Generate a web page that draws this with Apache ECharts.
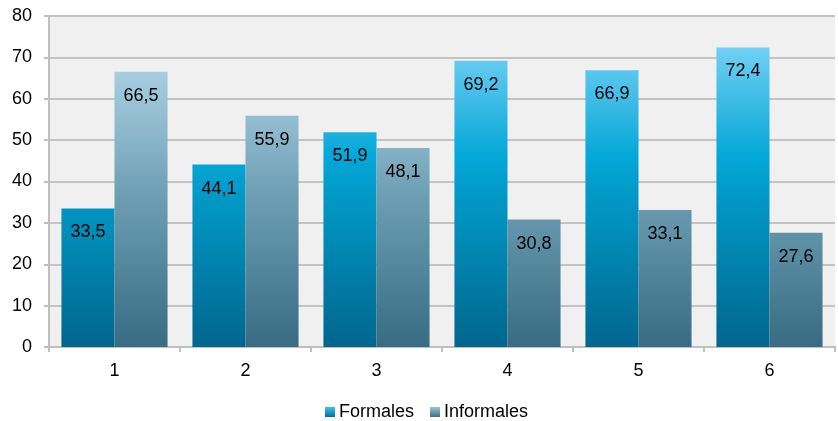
<!DOCTYPE html>
<html>
<head>
<meta charset="utf-8">
<script src="https://cdn.jsdelivr.net/npm/echarts@6/dist/echarts.min.js"></script>
<style>
  html, body { margin: 0; padding: 0; background: #ffffff; }
  #chart { width: 838px; height: 421px; }
</style>
</head>
<body>
<div id="chart"></div>
<script>
// Categories and values
const categories = ['1', '2', '3', '4', '5', '6'];
const formales = [33.5, 44.1, 51.9, 69.2, 66.9, 72.4];
const informales = [66.5, 55.9, 48.1, 30.8, 33.1, 27.6];
const yTicks = { min: 0, max: 80, interval: 10 };

const gridTop = 16, gridBottom = 74, chartH = 421;
const plotTop = gridTop, plotBottom = chartH - gridBottom;

// Vertical gradients spanning the whole plot height (shared by all bars of a series)
function plotGradient(stops) {
  return new echarts.graphic.LinearGradient(0, plotTop, 0, plotBottom,
    stops.map(s => ({ offset: s[0], color: s[1] })), true);
}
const formalesFill = plotGradient([
  [0.00, '#86dbfa'], [0.10, '#6fcff4'], [0.30, '#2fb6e2'],
  [0.42, '#04a8d8'], [0.55, '#0298c6'], [1.00, '#00668e']
]);
const informalesFill = plotGradient([
  [0.00, '#b6d9ea'], [0.17, '#a6cde0'], [0.35, '#8db8cc'],
  [0.55, '#6c9db3'], [1.00, '#386c82']
]);
const fmt = p => String(p.value).replace('.', ',');

const chart = echarts.init(document.getElementById('chart'));
chart.setOption({
  backgroundColor: '#ffffff',
  animation: false,
  textStyle: { fontFamily: 'Liberation Sans, Arial, sans-serif' },
  grid: { left: 49, right: 3, top: gridTop, bottom: gridBottom,
          show: true, backgroundColor: '#f0f0f0', borderWidth: 0 },
  legend: {
    bottom: -5, left: 320, itemWidth: 10, itemHeight: 10, itemGap: 16,
    icon: 'rect',
    textStyle: { fontSize: 18, color: '#000', padding: [0, 0, 0, -1] },
    data: [
      { name: 'Formales', itemStyle: { color: new echarts.graphic.LinearGradient(0, 0, 0, 1,
          [{ offset: 0, color: '#40c0ec' }, { offset: 1, color: '#00709a' }]) } },
      { name: 'Informales', itemStyle: { color: new echarts.graphic.LinearGradient(0, 0, 0, 1,
          [{ offset: 0, color: '#9cc4d8' }, { offset: 1, color: '#3c7088' }]) } }
    ]
  },
  xAxis: {
    type: 'category', data: categories, boundaryGap: true,
    axisLine: { lineStyle: { color: '#bfbfbf', width: 2 } },
    axisTick: { show: true, length: 5, lineStyle: { color: '#bfbfbf', width: 2 } },
    axisLabel: { fontSize: 18, color: '#000', margin: 15 }
  },
  yAxis: {
    type: 'value', min: yTicks.min, max: yTicks.max, interval: yTicks.interval,
    axisLine: { show: true, lineStyle: { color: '#bfbfbf', width: 2 } },
    axisTick: { show: true, length: 5, lineStyle: { color: '#bfbfbf', width: 2 } },
    axisLabel: { fontSize: 18, color: '#000', margin: 17 },
    splitLine: { lineStyle: { color: '#c3c3c3', width: 2 } }
  },
  series: [
    {
      name: 'Formales', type: 'bar', data: formales,
      barGap: '0%', barCategoryGap: '19%',
      itemStyle: { color: formalesFill },
      label: { show: true, position: 'insideTop', distance: 15,
               fontSize: 18, color: '#000', formatter: fmt }
    },
    {
      name: 'Informales', type: 'bar', data: informales,
      barGap: '0%', barCategoryGap: '19%',
      itemStyle: { color: informalesFill },
      label: { show: true, position: 'insideTop', distance: 15,
               fontSize: 18, color: '#000', formatter: fmt }
    }
  ]
});
</script>
</body>
</html>
